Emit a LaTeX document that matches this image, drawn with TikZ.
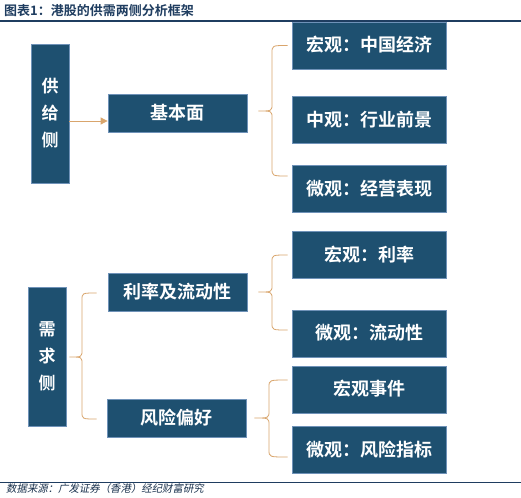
\documentclass[tikz,border=0pt]{standalone}
\usepackage{fontspec}
\usetikzlibrary{calc,arrows.meta}
\newfontfamily\cjk{Noto Sans CJK SC}
\newfontfamily\cjkb{Noto Sans CJK SC Bold}
\newfontfamily\cjkit[FakeSlant=0.2]{Noto Sans CJK SC}
\definecolor{boxfill}{HTML}{1E5070}
\definecolor{boxline}{HTML}{6F92B8}
\definecolor{tan}{HTML}{D9A56C}
\definecolor{navy}{HTML}{1F3D60}
\tikzset{
  box/.style={draw=boxline, line width=0.8pt, fill=boxfill, text=white, inner sep=0pt, font=\cjkb\fontsize{18}{20}\selectfont},
  midbox/.style={box, minimum width=139pt, minimum height=38pt},
  rbox/.style={box, minimum width=154pt, minimum height=47pt},
  vbox/.style={box, minimum width=38pt, minimum height=139pt, align=center, font=\cjkb\fontsize{17}{27}\selectfont},
  brace/.style={draw=tan, line width=0.8pt},
  arr/.style={draw=tan, line width=0.8pt, -{Triangle[length=7pt,width=7pt]}}
}
\begin{document}
\begin{tikzpicture}[x=1pt,y=-1pt]
\useasboundingbox (0,0) rectangle (521,497);
\fill[white] (0,0) rectangle (521,497);
% header
\node[anchor=west, text=navy, font=\cjkb\fontsize{13}{15}\selectfont, inner sep=0pt] (title) at (4,11) {图表1：港股的供需两侧分析框架};
\draw[navy, line width=1.2pt] (0,21) -- (521,21);
% footer
\draw[navy, line width=1pt] (0,482) -- (521,482);
\node[anchor=west, text=navy!80!black, font=\cjkit\fontsize{10.4}{12}\selectfont, inner sep=0pt] (src) at (6,488.5) {数据来源：广发证券（香港）经纪财富研究};
% left
\node[vbox] (gj) at (50,113.5) {供\\给\\侧};
\node[vbox] (xq) at (47,356.5) {需\\求\\侧};
% middle
\node[midbox] (jbm) at (177.5,113) {基本面};
\node[midbox] (ll) at (177.5,292) {利率及流动性};
\node[midbox] (fx) at (176.5,418) {风险偏好};
% right
\node[rbox] (r1) at (369,45.5) {\raisebox{3pt}{宏观：中国经济}};
\node[rbox] (r2) at (369,120) {\raisebox{3pt}{中观：行业前景}};
\node[rbox] (r3) at (369,189) {\raisebox{3pt}{微观：经营表现}};
\node[rbox] (r4) at (369,255) {\raisebox{3pt}{宏观：利率}};
\node[rbox] (r5) at (369,333.5) {\raisebox{3pt}{微观：流动性}};
\node[rbox] (r6) at (369,389.5) {\raisebox{4pt}{宏观事件}};
\node[rbox] (r7) at (369,450) {\raisebox{3pt}{微观：风险指标}};
% arrow
\draw[arr] (gj.east |- 0,121) -- (jbm.west |- 0,121);
% braces
\coordinate (t1) at ($(jbm.east)+(11,-2)$);
\coordinate (a1) at ($(r1.west)+(-4,0)$);
\coordinate (b1) at ($(r3.west)+(-4,-13)$);
\draw[brace] (a1) .. controls (272,45.5) .. (272,53) -- (272,104) .. controls (272,111) .. (t1) .. controls (272,111) .. (272,118) -- (272,168) .. controls (272,176) .. (b1);
\coordinate (t2) at ($(ll.east)+(11,0)$);
\coordinate (a2) at ($(r4.west)+(-4,0)$);
\coordinate (b2) at ($(r5.west)+(-4,-3.5)$);
\draw[brace] (a2) .. controls (272,255) .. (272,262) -- (272,285) .. controls (272,292) .. (t2) .. controls (272,292) .. (272,299) -- (272,323) .. controls (272,330) .. (b2);
\coordinate (t3) at ($(fx.east)+(8,0)$);
\coordinate (a3) at ($(r6.west)+(-4,-9.5)$);
\coordinate (b3) at ($(r7.west)+(-4,7)$);
\draw[brace] (a3) .. controls (269,380) .. (269,387) -- (269,411) .. controls (269,418) .. (t3) .. controls (269,418) .. (269,425) -- (269,450) .. controls (269,457) .. (b3);
\coordinate (t4) at ($(xq.east)+(3,0.5)$);
\coordinate (a4) at ($(ll.west)+(-11,1)$);
\coordinate (b4) at ($(fx.west)+(-10,1)$);
\draw[brace] (a4) .. controls (82,293) .. (82,300) -- (82,350) .. controls (82,357) .. (t4) .. controls (82,357) .. (82,364) -- (82,412) .. controls (82,419) .. (b4);
\end{tikzpicture}
\end{document}
